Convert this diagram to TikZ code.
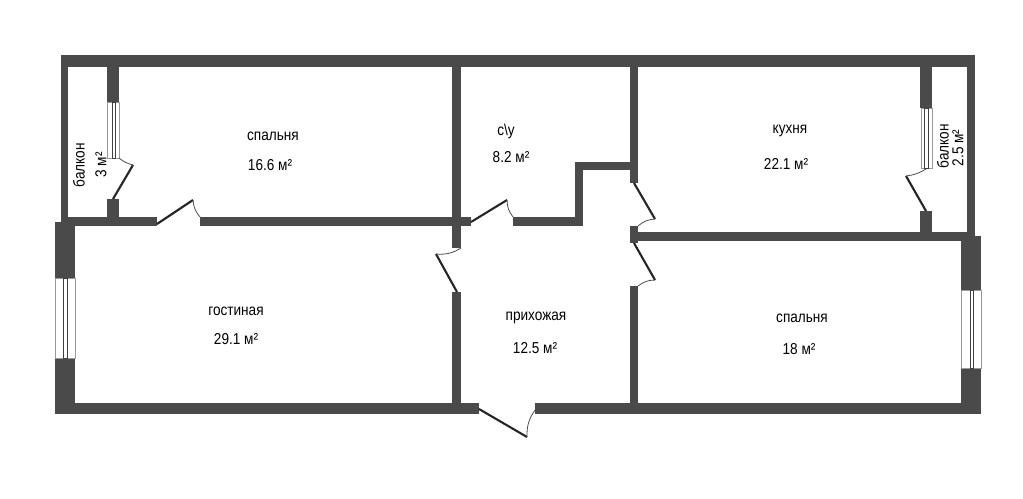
\documentclass[tikz,border=0pt]{standalone}
\usepackage{fontspec}
\setmainfont[FakeStretch=0.86]{Liberation Sans}
\definecolor{wallgray}{HTML}{4A4A4A}
\tikzset{wall/.style={fill=wallgray,draw=none},
  winframe/.style={draw=gray!80,line width=0.5pt,fill=white},
  winpane/.style={draw=black!75,line width=0.5pt,fill=white},
  leaf/.style={draw=black!85,line width=1.2pt},
  swing/.style={draw=black!70,line width=0.45pt},
  roomlabel/.style={font=\fontsize{9}{10}\selectfont,text=black,inner sep=0pt}}

\begin{document}
\begin{tikzpicture}[x=0.02cm,y=-0.02cm]
\useasboundingbox[fill=white] (0,0) rectangle (1023,498);
% walls
\foreach \xa/\ya/\xb/\yb in {61/55/975/67, 61/55/68/226, 61/217/157/226, 200/217/471/226,
  513/217/583/226, 107/67/119/102, 107/199/119/226, 920/67/932/108, 920/211/932/241,
  967/55/975/241, 630/232/975/241, 452/67/461/248, 452/292/461/403, 575/162/583/226,
  575/162/638/170, 630/67/638/183, 630/226/638/243, 630/286/638/403,
  55/222/75/278, 55/358/75/414, 961/236/981/290, 961/368/981/414,
  55/403/479/414, 535/403/981/414}
{
  \fill[wall] (\xa,\ya) rectangle (\xb,\yb);
}
% windows
\foreach \xa/\ya/\xb/\yb/\xc/\xd in {107/102/119/158/112/115, 921/108/932/168/924/928,
  55/278/75/358/63/67, 961/290/981/368/970/973}
{
  \draw[winframe] (\xa,\ya) rectangle (\xb,\yb);
  \draw[winpane] (\xc,\ya) rectangle (\xd,\yb);
}
% doors
\foreach \n/\xa/\ya/\xb/\yb/\xc/\yc/\b in {sa/113/199/133/165/119/158/12, sb/157/224/193/200/200/217/-18,
  sc/471/222/507/200/513/217/-18, sd/457/292/436/254/461/248/-18, se/634/183/655/219/638/226/-18,
  sf/634/243/655/280/638/286/-18, sg/926/211/906/176/926/169/-12, sh/479/409/527/437/535/410/18}
{
  \coordinate (\n1) at (\xa,\ya);
  \coordinate (\n2) at (\xb,\yb);
  \coordinate (\n3) at (\xc,\yc);
  \draw[leaf] (\n1) -- (\n2);
  \draw[swing] (\n2) to[bend left=\b] (\n3);
}
% rooms
\node[roomlabel] (bedroomA) at (273,136) {спальня};
\node[roomlabel] (bedroomAarea) at (270,165) {16.6 м²};
\node[roomlabel] (bath) at (506,131) {с\textbackslash у};
\node[roomlabel] (batharea) at (511,157) {8.2 м²};
\node[roomlabel] (kitchen) at (790,131) {кухня};
\node[roomlabel] (kitchenarea) at (786,164) {22.1 м²};
\node[roomlabel] (living) at (236,311) {гостиная};
\node[roomlabel] (livingarea) at (236,339) {29.1 м²};
\node[roomlabel] (hall) at (536,318) {прихожая};
\node[roomlabel] (hallarea) at (535,348) {12.5 м²};
\node[roomlabel] (bedroomB) at (802,318) {спальня};
\node[roomlabel] (bedroomBarea) at (799,349) {18 м²};
\node[roomlabel,rotate=90] (balconyA) at (79,165) {балкон};
\node[roomlabel,rotate=90] (balconyAarea) at (101,165) {3 м²};
\node[roomlabel,rotate=90] (balconyB) at (943,146) {балкон};
\node[roomlabel,rotate=90] (balconyBarea) at (958,148) {2.5 м²};
\end{tikzpicture}
\end{document}
